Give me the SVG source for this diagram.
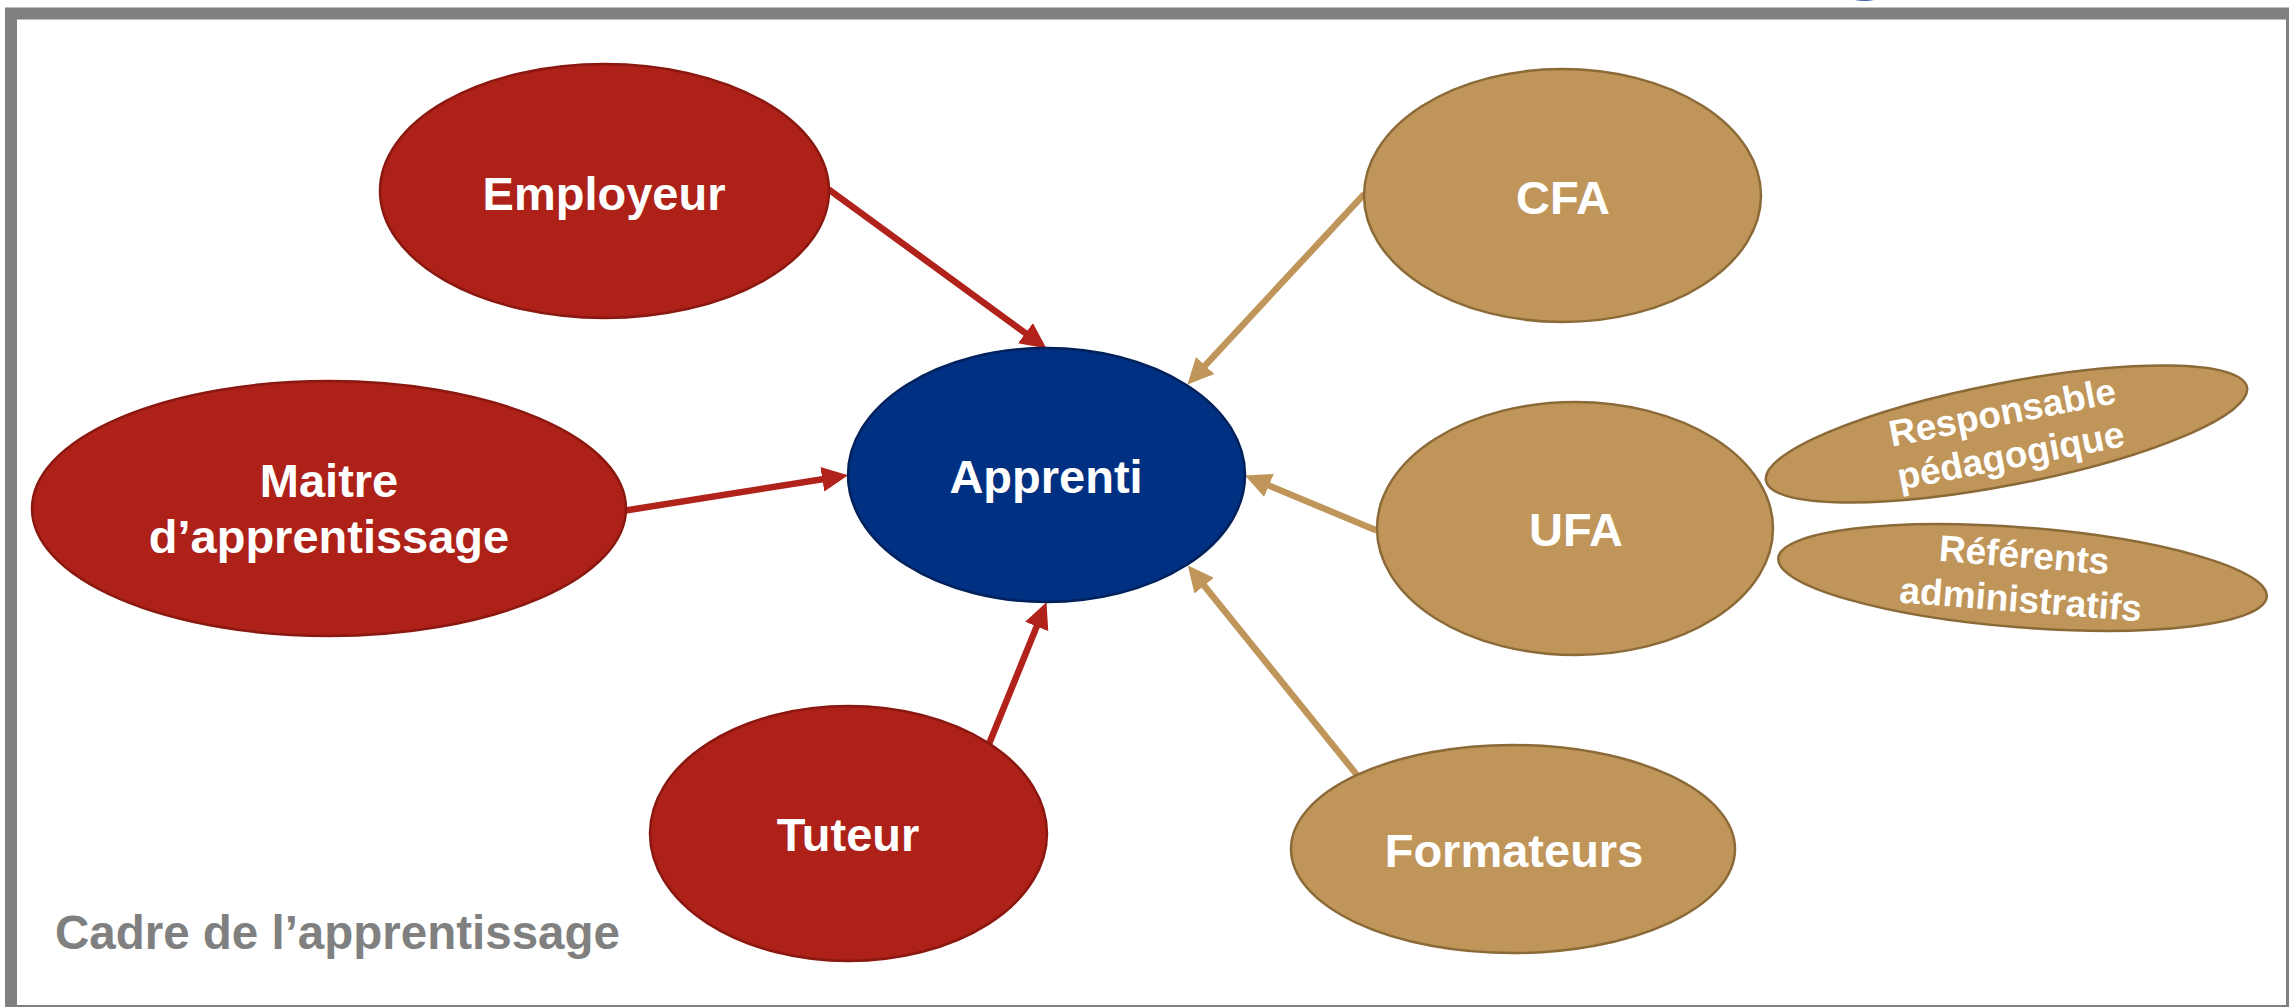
<svg xmlns="http://www.w3.org/2000/svg" width="2289" height="1007" viewBox="0 0 2289 1007">
<style>
.bg{fill:#ffffff}
.frame{fill:none;stroke:#808080;stroke-width:12}
.red{fill:#AD2118;stroke:#8A1810;stroke-width:2.5}
.blue{fill:#003082;stroke:#00215C;stroke-width:2.5}
.tan{fill:#BF955A;stroke:#8C6A38;stroke-width:2.5}
.lbl{font-family:"Liberation Sans",Arial,sans-serif;font-weight:bold;fill:#ffffff;text-anchor:middle;font-size:47px}
.sm{font-size:37px}
.legend{font-family:"Liberation Sans",Arial,sans-serif;font-weight:bold;fill:#808080;font-size:47.5px}
.cr{stroke:#B0221A;stroke-width:6.5;fill:none}
.ct{stroke:#BF955A;stroke-width:6.5;fill:none}
</style>
<defs>
<marker id="ar" markerUnits="userSpaceOnUse" markerWidth="28" markerHeight="28" refX="13" refY="13" orient="auto" viewBox="0 0 28 26">
<path d="M0,0.5 L26,13 L0,25.5 z" fill="#B0221A"/>
</marker>
<marker id="at" markerUnits="userSpaceOnUse" markerWidth="28" markerHeight="28" refX="13" refY="13" orient="auto" viewBox="0 0 28 26">
<path d="M0,0.5 L26,13 L0,25.5 z" fill="#BF955A"/>
</marker>
</defs>
<rect class="bg" x="0" y="0" width="2289" height="1007"/>
<ellipse cx="1864.5" cy="-40" rx="45" ry="41" fill="#3A62B0"/>
<rect class="frame" x="11" y="13.5" width="2281" height="997.5"/>
<g id="connectors">
<line class="cr" x1="828.6" y1="189.4" x2="1036.0" y2="340.8" marker-end="url(#ar)"/>
<line class="cr" x1="625.5" y1="510.5" x2="835.2" y2="477.2" marker-end="url(#ar)"/>
<line class="cr" x1="988.6" y1="745" x2="1041.6" y2="614.4" marker-end="url(#ar)"/>
<line class="ct" x1="1364.3" y1="194" x2="1196.3" y2="375.0" marker-end="url(#at)"/>
<line class="ct" x1="1376.6" y1="530.5" x2="1257.0" y2="480.5" marker-end="url(#at)"/>
<line class="ct" x1="1357" y1="775" x2="1196.0" y2="575.6" marker-end="url(#at)"/>
</g>
<g id="employeur">
<ellipse class="red" cx="604.5" cy="191" rx="224.5" ry="127"/>
<text class="lbl" x="604" y="210">Employeur</text>
</g>
<g id="maitre">
<ellipse class="red" cx="329" cy="508.5" rx="297" ry="127.5"/>
<text class="lbl" x="329" y="497">Maitre</text>
<text class="lbl" x="329" y="553">d’apprentissage</text>
</g>
<g id="apprenti">
<ellipse class="blue" cx="1046.5" cy="475" rx="198.5" ry="127"/>
<text class="lbl" x="1046" y="493">Apprenti</text>
</g>
<g id="tuteur">
<ellipse class="red" cx="848.5" cy="833.5" rx="198.5" ry="127.5"/>
<text class="lbl" x="848" y="851">Tuteur</text>
</g>
<g id="cfa">
<ellipse class="tan" cx="1562.5" cy="195.5" rx="198.5" ry="126.5"/>
<text class="lbl" x="1563" y="214">CFA</text>
</g>
<g id="ufa">
<ellipse class="tan" cx="1575" cy="528.5" rx="198" ry="126.5"/>
<text class="lbl" x="1576" y="546">UFA</text>
</g>
<g id="formateurs">
<ellipse class="tan" cx="1513" cy="849" rx="222" ry="104"/>
<text class="lbl" x="1514" y="867">Formateurs</text>
</g>
<g id="responsable" transform="translate(2006.5,434) rotate(-11)">
<ellipse class="tan" cx="0" cy="0" rx="245" ry="51"/>
<text class="lbl sm" x="0" y="-9.5">Responsable</text>
<text class="lbl sm" x="0" y="34.5">pédagogique</text>
</g>
<g id="referents" transform="translate(2022.5,577.5) rotate(4.5)">
<ellipse class="tan" cx="0" cy="0" rx="245" ry="50"/>
<text class="lbl sm" x="0" y="-10">Référents</text>
<text class="lbl sm" x="0" y="34.5">administratifs</text>
</g>
<text class="legend" x="55" y="949">Cadre de l’apprentissage</text>
</svg>
